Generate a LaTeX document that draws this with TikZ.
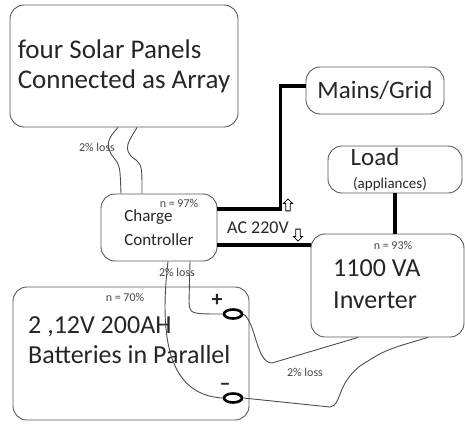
\documentclass[tikz,border=0pt]{standalone}
\usepackage{fontspec}
\setmainfont{Carlito}
\usetikzlibrary{shapes.geometric,shapes.arrows}

\begin{document}
\begin{tikzpicture}[
		x=1pt,y=-1pt,
		text=black!85,
		box/.style={draw=gray!70!black,rounded corners=14pt,line width=0.9pt,align=left,inner sep=2pt},
		big/.style={font=\fontsize{27}{30}\selectfont,align=left},
		mid/.style={font=\fontsize{17}{24}\selectfont,align=left},
		eff/.style={font=\fontsize{12}{14}\selectfont,text=gray!55!black,inner sep=0pt},
		wire/.style={draw=gray!60!black,line width=0.9pt},
		feed/.style={line width=3.6pt},
		term/.style={ellipse,draw,line width=2.6pt,minimum width=18pt,minimum height=9pt,inner sep=0pt},
		hollow/.style={single arrow,draw,line width=0.8pt,minimum height=12pt,minimum width=9pt,inner sep=1.6pt,single arrow head extend=2pt}
		]
		\useasboundingbox (0,0) rectangle (465,423);

		% boxes
		\node[box,big,minimum width=228pt,minimum height=122pt] (solar) at (124,66) {four Solar Panels\\Connected as Array};
		\node[box,mid,minimum width=116pt,minimum height=67pt] (ctrl) at (159,227.5) {Charge\\Controller};
		\node[box,font=\fontsize{25}{28}\selectfont,minimum width=138pt,minimum height=47pt] (mains) at (375,90.5) {Mains/Grid};
		\node[box,minimum width=134pt,minimum height=47pt] (load) at (395,169.5) {};
		\node[box,minimum width=153pt,minimum height=103pt] (inv) at (387.5,285.5) {};
		\node[box,minimum width=236pt,minimum height=133pt] (batt) at (131,353.5) {};

		% texts
		\node[font=\fontsize{25}{28}\selectfont,inner sep=0pt] (loadtxt) at (375,157) {Load};
		\node[font=\fontsize{15}{18}\selectfont,inner sep=0pt] (apptxt) at (390,184) {(appliances)};
		\node[big,font=\fontsize{26}{32}\selectfont,anchor=west,inner sep=0pt] (invtxt) at (333,284) {1100 VA\\Inverter};
		\node[big,font=\fontsize{26}{30}\selectfont,anchor=west,inner sep=0pt] (batttxt) at (28,340) {2 ,12V 200AH\\Batteries in Parallel};
		\node[eff] (eff1) at (179,203) {n = 97\%};
		\node[eff] (eff2) at (393,245) {n = 93\%};
		\node[eff] (eff3) at (125,297) {n = 70\%};
		\node[eff] (loss1) at (97,147) {2\% loss};
		\node[eff] (loss2) at (177,272) {2\% loss};
		\node[eff] (loss3) at (305,372) {2\% loss};
		\node[font=\fontsize{18}{20}\selectfont,inner sep=0pt] (ac) at (258,228) {AC 220V};
		\node[font=\bfseries\fontsize{22}{22}\selectfont,inner sep=0pt] (plussign) at (217,300) {+};
		\node[font=\bfseries\fontsize{22}{22}\selectfont,inner sep=0pt] (minussign) at (225,387) {–};

		% battery terminals
		\node[term] (plus) at (233,314) {};
		\node[term] (minus) at (233,398) {};

		% AC side
		\coordinate (acout) at ([yshift=-17.5pt]ctrl.east);
		\draw[feed] ([yshift=18.5pt]ctrl.east) -- ++(63,0) |- ([yshift=4.5pt]mains.west);
		\draw[feed] (acout) -- (acout -| inv.west);
		\draw[feed] (load.south) -- (load.south |- inv.north);
		\node[hollow,shape border rotate=90] (up) at (288,206) {};
		\node[hollow,shape border rotate=270] (down) at (298,234) {};

		% DC wiring
		\draw[wire] ([xshift=-6pt]solar.south) .. controls (108,138) and (104,146) .. (114,158) .. controls (120,166) .. ([xshift=-38pt]ctrl.north);
		\draw[wire] ([xshift=13pt]solar.south) .. controls (130,140) and (120,150) .. (136,160) .. controls (142,166) .. ([xshift=-17pt]ctrl.north);
		\draw[wire] ([xshift=9pt]ctrl.south) .. controls (160,330) and (165,395) .. (minus.west);
		\draw[wire] ([xshift=31pt]ctrl.south) -- (189,302) .. controls (190,314) .. (plus.west);
		\draw[wire] (plus.east) .. controls (256,322) and (256,363) .. (272,363) -- ([xshift=-29.5pt]inv.south);
		\draw[wire] (minus.east) -- (330,407) .. controls (342,405) and (336,385) .. (360,366) .. controls (385,350) .. ([xshift=40.5pt]inv.south);
	\end{tikzpicture}
\end{document}
